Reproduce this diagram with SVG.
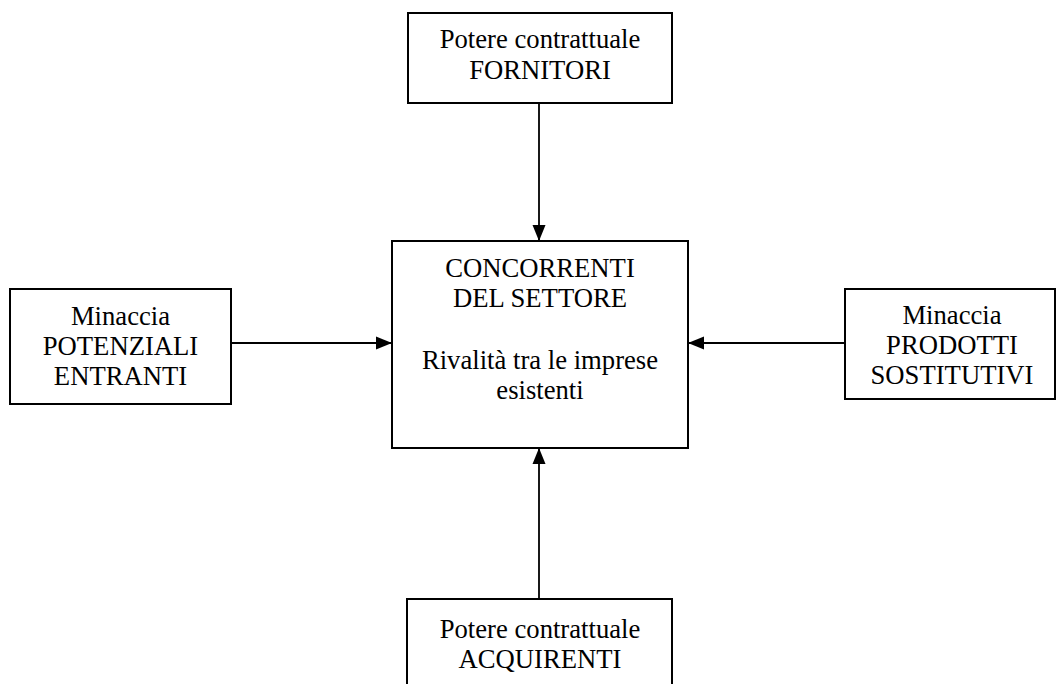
<svg xmlns="http://www.w3.org/2000/svg" width="1063" height="684" viewBox="0 0 1063 684">
<style>
.box{fill:#fff;stroke:#000;stroke-width:2}
.t{font-family:"Liberation Serif","Times New Roman",serif;font-size:26.67px;fill:#000;text-anchor:middle}
.c{stroke:#000;stroke-width:1.8;fill:none;marker-end:url(#ah)}
</style>
<defs>
<marker id="ah" markerUnits="userSpaceOnUse" markerWidth="16" markerHeight="14" refX="16" refY="7" orient="auto">
<path d="M0,0.5 L16,7 L0,13.5 Z" fill="#000"/>
</marker>
</defs>
<rect width="1063" height="684" fill="#fff"/>
<g id="connectors">
<line class="c" x1="539" y1="103" x2="539" y2="241"/>
<line class="c" x1="231" y1="343" x2="392" y2="343"/>
<line class="c" x1="845" y1="343" x2="688" y2="343"/>
<line class="c" x1="539" y1="599" x2="539" y2="448"/>
</g>
<g id="fornitori">
<rect class="box" x="408" y="13" width="264" height="90"/>
<text class="t" x="540" y="48">Potere contrattuale</text>
<text class="t" x="540" y="79">FORNITORI</text>
</g>
<g id="concorrenti">
<rect class="box" x="392" y="241" width="296" height="207"/>
<text class="t" x="540" y="277">CONCORRENTI</text>
<text class="t" x="540" y="307">DEL SETTORE</text>
<text class="t" x="540" y="369">Rivalità tra le imprese</text>
<text class="t" x="540" y="399">esistenti</text>
</g>
<g id="entranti">
<rect class="box" x="10" y="289" width="221" height="115"/>
<text class="t" x="120.5" y="325">Minaccia</text>
<text class="t" x="120.5" y="355">POTENZIALI</text>
<text class="t" x="120.5" y="385">ENTRANTI</text>
</g>
<g id="sostitutivi">
<rect class="box" x="845" y="289" width="210" height="110"/>
<text class="t" x="952" y="324">Minaccia</text>
<text class="t" x="952" y="354">PRODOTTI</text>
<text class="t" x="952" y="384">SOSTITUTIVI</text>
</g>
<g id="acquirenti">
<rect class="box" x="407" y="599" width="265" height="100"/>
<text class="t" x="540" y="638">Potere contrattuale</text>
<text class="t" x="540" y="668">ACQUIRENTI</text>
</g>
</svg>
